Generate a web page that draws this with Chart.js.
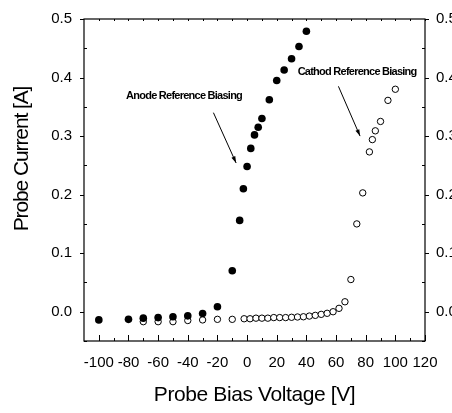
<!DOCTYPE html>
<html lang="en">
<head>
  <meta charset="UTF-8" />
  <title>Probe Current vs Bias Voltage</title>
  <script src="https://cdn.jsdelivr.net/npm/chart.js"></script>
  <style>
    body { margin: 0; background: #fff; }
    #wrap { width: 452px; height: 413px; }
  </style>
</head>
<body>
  <div id="wrap"><canvas id="probeChart" width="452" height="413"></canvas></div>

  <script>
    // anode reference biasing (filled circles)
    const anodeV = [-100, -80, -70, -60, -50, -40, -30, -20, -10, -5, -2.5, 0, 2.5, 5, 7.5, 10, 15, 20, 25, 30, 35, 40];
    const anodeI = [-0.014, -0.013, -0.011, -0.010, -0.0085, -0.007, -0.003, 0.0085, 0.070, 0.156, 0.210,
                    0.248, 0.279, 0.302, 0.315, 0.330, 0.362, 0.395, 0.413, 0.432, 0.453, 0.479];

    // cathode reference biasing (open circles)
    const cathodeV = [-70, -60, -50, -40, -30, -20, -10, -2, 2, 6, 10, 14, 18, 22, 26, 30, 34,
                      38, 42, 46, 50, 54, 58, 62, 66, 70, 74, 78, 82.5, 84.5, 86.5, 90, 95, 100];
    const cathodeI = [-0.017, -0.017, -0.017, -0.015, -0.014, -0.013, -0.013,
                      -0.012, -0.012, -0.011, -0.011, -0.011, -0.010, -0.010, -0.010, -0.0095, -0.009,
                      -0.0086, -0.0074, -0.0062, -0.0045, -0.0027, 0, 0.0058, 0.017,
                      0.055, 0.150, 0.203, 0.273, 0.294, 0.309, 0.325, 0.361, 0.380];

    const xTicks = [-100, -80, -60, -40, -20, 0, 20, 40, 60, 80, 100, 120];
    const yTicks = [0.0, 0.1, 0.2, 0.3, 0.4, 0.5];

    const xTitle = 'Probe Bias Voltage [V]';
    const yTitle = 'Probe Current [A]';
    const notes = [
      { text: 'Anode Reference Biasing', x: -42.5, y: 0.368, from: [-22.7, 0.340], to: [-7.4, 0.254] },
      { text: 'Cathod Reference Biasing', x: 74.2, y: 0.410, from: [61.6, 0.385], to: [76.2, 0.300] }
    ];

    const FONT = '"Liberation Sans", Arial, sans-serif';

    const toPts = (xs, ys) => xs.map((v, i) => ({ x: v, y: ys[i] }));

    // frame, inner ticks, titles and arrows
    const decor = {
      id: 'decor',
      afterDraw(chart) {
        const ctx = chart.ctx;
        const a = chart.chartArea;
        const sx = chart.scales.x, sy = chart.scales.y;
        ctx.save();
        ctx.strokeStyle = '#000';
        ctx.fillStyle = '#000';
        ctx.lineWidth = 1.2;
        ctx.strokeRect(a.left, a.top, a.right - a.left, a.bottom - a.top);

        ctx.lineWidth = 1;
        ctx.beginPath();
        // x ticks every 10, labelled ones longer
        for (let v = xTicks[0]; v <= xTicks[xTicks.length - 1]; v += 10) {
          const px = Math.round(sx.getPixelForValue(v)) + 0.5;
          const major = xTicks.includes(v);
          ctx.moveTo(px, a.bottom);
          ctx.lineTo(px, a.bottom - (major ? 6 : 3));
          ctx.moveTo(px, a.top);
          ctx.lineTo(px, a.top + 2);
        }
        // y ticks every 0.05
        for (let k = -1; k <= 10; k++) {
          const v = k * 0.05;
          const py = Math.round(sy.getPixelForValue(v)) + 0.5;
          if (k % 2 === 0) {
            ctx.moveTo(a.left - 4, py); ctx.lineTo(a.left, py);
            ctx.moveTo(a.right, py); ctx.lineTo(a.right + 4, py);
          } else {
            ctx.moveTo(a.left, py); ctx.lineTo(a.left + 3, py);
            ctx.moveTo(a.right, py); ctx.lineTo(a.right - 3, py);
          }
        }
        ctx.stroke();

        // axis titles
        ctx.textAlign = 'center';
        ctx.textBaseline = 'middle';
        ctx.font = '21px ' + FONT;
        ctx.letterSpacing = '-0.4px';
        ctx.fillText(xTitle, (a.left + a.right) / 2, 395);
        ctx.save();
        ctx.translate(22, 159);
        ctx.rotate(-Math.PI / 2);
        ctx.letterSpacing = '-1.1px';
        ctx.fillText(yTitle, 0, 0);
        ctx.restore();

        // annotations with arrows
        ctx.font = 'bold 11px ' + FONT;
        ctx.letterSpacing = '-0.75px';
        notes.forEach(n => {
          ctx.fillText(n.text, sx.getPixelForValue(n.x), sy.getPixelForValue(n.y));
          const x1 = sx.getPixelForValue(n.from[0]), y1 = sy.getPixelForValue(n.from[1]);
          const x2 = sx.getPixelForValue(n.to[0]), y2 = sy.getPixelForValue(n.to[1]);
          ctx.beginPath();
          ctx.moveTo(x1, y1);
          ctx.lineTo(x2, y2);
          ctx.stroke();
          const ang = Math.atan2(y2 - y1, x2 - x1);
          ctx.beginPath();
          ctx.moveTo(x2, y2);
          ctx.lineTo(x2 - 7 * Math.cos(ang - 0.3), y2 - 7 * Math.sin(ang - 0.3));
          ctx.lineTo(x2 - 7 * Math.cos(ang + 0.3), y2 - 7 * Math.sin(ang + 0.3));
          ctx.closePath();
          ctx.fill();
        });
        ctx.restore();
      }
    };

    const yScale = (pos, w, pad) => ({
      type: 'linear',
      position: pos,
      min: -0.05,
      max: 0.5,
      afterBuildTicks: s => { s.ticks = yTicks.map(v => ({ value: v })); },
      afterFit: s => { s.width = w; },
      grid: { display: false },
      border: { display: false },
      ticks: {
        color: '#000',
        padding: pad,
        font: { family: FONT, size: 15 },
        callback: v => v.toFixed(1)
      }
    });

    new Chart(document.getElementById('probeChart'), {
      type: 'scatter',
      data: {
        datasets: [
          {
            label: 'Anode Reference Biasing',
            data: toPts(anodeV, anodeI),
            backgroundColor: '#000',
            borderColor: '#000',
            borderWidth: 0,
            pointRadius: 3.8,
            order: 0
          },
          {
            label: 'Cathod Reference Biasing',
            data: toPts(cathodeV, cathodeI),
            backgroundColor: '#fff',
            borderColor: '#000',
            borderWidth: 1,
            pointRadius: 3.2,
            order: 1
          }
        ]
      },
      options: {
        responsive: false,
        animation: false,
        devicePixelRatio: 1,
        layout: { padding: { top: 19, left: 0, right: 0, bottom: 0 } },
        plugins: { legend: { display: false }, tooltip: { enabled: false } },
        scales: {
          x: {
            type: 'linear',
            position: 'bottom',
            min: -110,
            max: 120,
            afterBuildTicks: s => { s.ticks = xTicks.map(v => ({ value: v })); },
            afterFit: s => { s.height = 72; },
            grid: { display: false },
            border: { display: false },
            ticks: {
              color: '#000',
              padding: 5,
              autoSkip: false,
              maxRotation: 0,
              font: { family: FONT, size: 15 }
            }
          },
          y: yScale('left', 84, 4),
          y2: yScale('right', 27, 3)
        }
      },
      plugins: [decor]
    });
  </script>
</body>
</html>
